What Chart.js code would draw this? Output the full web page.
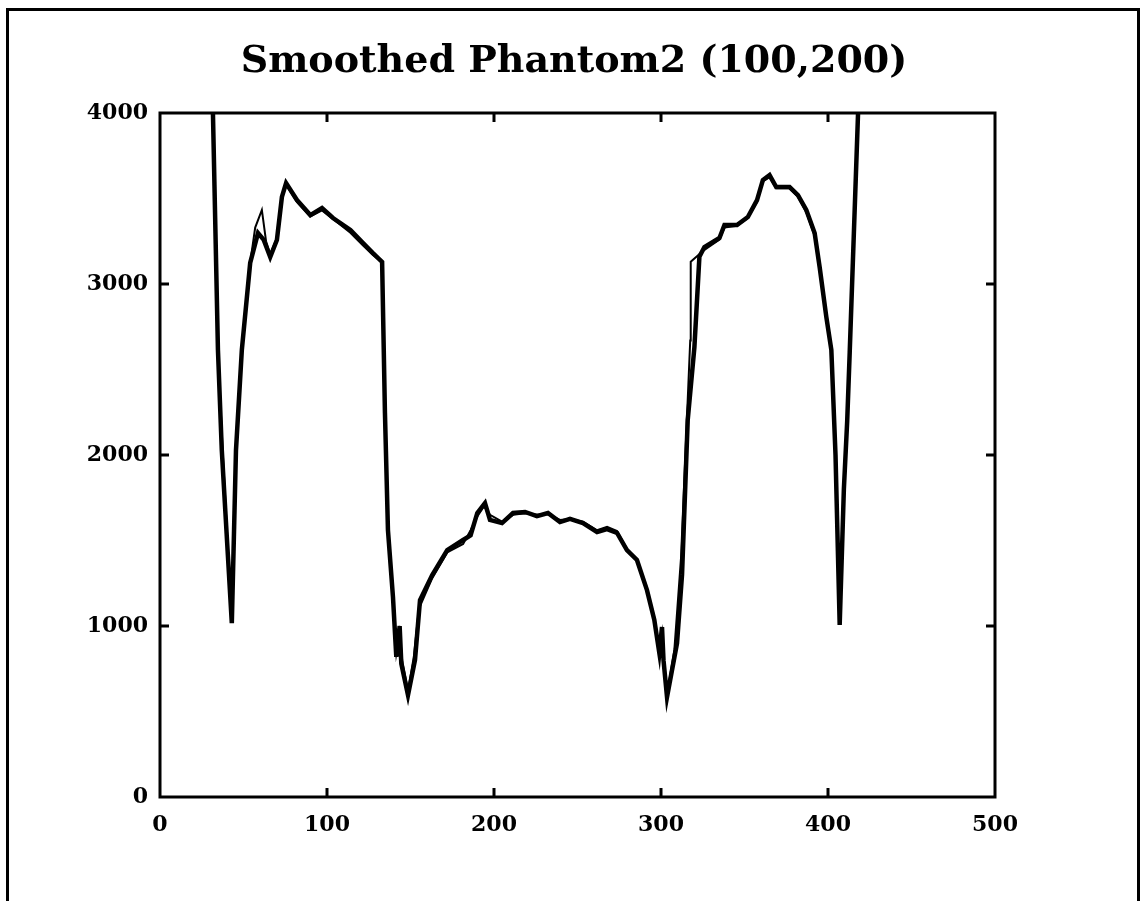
<!DOCTYPE html>
<html>
<head>
<meta charset="utf-8">
<script src="https://cdn.jsdelivr.net/npm/chart.js@4"></script>
<style>
  html, body { margin: 0; padding: 0; background: #fff; overflow: hidden; }
  #frame { position: absolute; left: 6px; top: 8px; width: 1134px; height: 1000px; border: 3px solid #000; box-sizing: border-box; }
  #chart { position: absolute; left: 0; top: 0; }
</style>
</head>
<body>
<div id="frame"></div>
<canvas id="chart" width="1148" height="901"></canvas>
<script>
// profile through row (100,200)
const thickX = [30.6, 31.7, 34.7, 37, 43, 45.5, 49, 54, 58.7, 62, 66, 70, 73, 75.5, 82, 90, 97, 103.6, 114, 121.6, 127.5, 133, 134.7, 136.5, 139.5, 141.5, 143.5, 144.5, 148.5, 152.7, 155.7, 163, 172, 181.5, 186, 190, 194.6, 197.6, 204.8, 211.4, 218.6, 225.7, 232.3, 239.5, 245.5, 253.3, 261.7, 267.7, 273.7, 279.6, 285.6, 291.6, 296, 299, 300.6, 301.5, 303.6, 309.6, 312.6, 316, 320, 323, 326, 335, 338, 345.5, 352, 357.5, 361, 365, 369, 377, 382, 387, 392, 395, 399, 402, 404.5, 407, 409.5, 411.5, 413, 418, 421];
const thickY = [4500, 4000, 2614, 2029, 1017, 2029, 2614, 3123, 3298, 3260, 3158, 3257, 3509, 3590, 3491, 3403, 3444, 3386, 3316, 3240, 3181, 3129, 2246, 1561, 1170, 820, 1000, 780, 596, 801, 1152, 1298, 1444, 1503, 1530, 1661, 1719, 1620, 1602, 1661, 1667, 1643, 1661, 1608, 1626, 1602, 1550, 1567, 1544, 1444, 1386, 1210, 1035, 842, 994, 800, 585, 900, 1300, 2205, 2630, 3160, 3216, 3269, 3345, 3345, 3392, 3491, 3608, 3637, 3567, 3567, 3520, 3433, 3298, 3099, 2807, 2614, 2000, 1006, 1800, 2200, 2600, 4000, 4800];

const thinX = [30.6, 31.7, 34.7, 37.5, 43, 45.5, 49, 54, 57, 61, 63.5, 66, 70, 73, 75.5, 82, 90, 97, 103.6, 114, 121.6, 127.5, 133, 134.7, 136.5, 139.5, 141.5, 143.5, 145, 148.5, 152, 155, 163, 172, 181.5, 186, 190, 194, 197.6, 204.8, 211.4, 218.6, 225.7, 232.3, 239.5, 245.5, 253.3, 261.7, 267.7, 273.7, 279.6, 285.6, 291.6, 296, 299, 300.6, 301.5, 303.6, 308, 312, 317.5, 317.8, 326, 335, 338, 345.5, 352, 357.5, 361, 365, 369, 377, 382, 387, 392, 395, 399, 402, 404.5, 407, 409.5, 411.5, 413, 418, 421];
const thinY = [4500, 4000, 2614, 2029, 1030, 2029, 2614, 3123, 3330, 3433, 3250, 3175, 3270, 3500, 3580, 3480, 3395, 3430, 3380, 3300, 3225, 3170, 3129, 2246, 1561, 1170, 840, 960, 800, 620, 820, 1100, 1280, 1430, 1480, 1560, 1640, 1700, 1650, 1610, 1650, 1660, 1650, 1655, 1620, 1625, 1610, 1560, 1580, 1555, 1450, 1390, 1220, 1050, 860, 960, 820, 600, 860, 1400, 2670, 3130, 3200, 3260, 3330, 3340, 3385, 3480, 3600, 3625, 3560, 3560, 3510, 3420, 3280, 3080, 2790, 2600, 2050, 1040, 1750, 2150, 2560, 3950, 4700];

const xTicks = [0, 100, 200, 300, 400, 500];
const yTicks = [0, 1000, 2000, 3000, 4000];

const toPts = (xs, ys) => xs.map((x, i) => ({ x: x, y: ys[i] }));

// box round the plot with small inward ticks on all four sides
const boxPlugin = {
    id: 'box',
    afterDatasetsDraw(chart) {
        const c = chart.ctx, a = chart.chartArea;
        const xs = chart.scales.x, ys = chart.scales.y;
        c.save();
        c.strokeStyle = '#000';
        c.lineWidth = 3;
        c.strokeRect(a.left, a.top, a.right - a.left, a.bottom - a.top);
        c.beginPath();
        xTicks.slice(1, -1).forEach(v => {
            const px = xs.getPixelForValue(v);
            c.moveTo(px, a.bottom); c.lineTo(px, a.bottom - 9);
            c.moveTo(px, a.top); c.lineTo(px, a.top + 9);
        });
        yTicks.slice(1, -1).forEach(v => {
            const py = ys.getPixelForValue(v);
            c.moveTo(a.left, py); c.lineTo(a.left + 9, py);
            c.moveTo(a.right, py); c.lineTo(a.right - 9, py);
        });
        c.stroke();
        c.restore();
    }
};

const tickFont = { family: 'DejaVu Serif', size: 22, weight: 'bold' };

new Chart(document.getElementById('chart').getContext('2d'), {
    type: 'scatter',
    data: {
        datasets: [{
            data: toPts(thinX, thinY),
            showLine: true,
            borderColor: '#000',
            borderWidth: 2,
            pointRadius: 0,
            tension: 0,
            clip: 0
        }, {
            data: toPts(thickX, thickY),
            showLine: true,
            borderColor: '#000',
            borderWidth: 4.5,
            pointRadius: 0,
            tension: 0,
            clip: 0
        }]
    },
    options: {
        responsive: false,
        animation: false,
        layout: { padding: 0 },
        plugins: {
            legend: { display: false },
            tooltip: { enabled: false },
            title: {
                display: true,
                text: 'Smoothed Phantom2 (100,200)',
                color: '#000',
                font: { family: 'DejaVu Serif', size: 38, weight: 'bold', lineHeight: 1.2 },
                padding: { top: 39, bottom: 28.4 }
            }
        },
        scales: {
            x: {
                type: 'linear',
                min: 0, max: 500,
                afterBuildTicks: s => { s.ticks = xTicks.map(v => ({ value: v })); },
                afterFit: s => { s.height = 104; },
                grid: { display: false, drawTicks: false },
                border: { display: false },
                ticks: { color: '#000', font: tickFont, padding: 15, maxRotation: 0, callback: v => String(v) }
            },
            y: {
                type: 'linear',
                min: 0, max: 4000,
                afterBuildTicks: s => { s.ticks = yTicks.map(v => ({ value: v })); },
                afterFit: s => { s.width = 160; },
                grid: { display: false, drawTicks: false },
                border: { display: false },
                ticks: { color: '#000', font: tickFont, padding: 12, callback: v => String(v) }
            },
            // empty right margin so the title centres on the whole page
            yRight: {
                type: 'linear',
                position: 'right',
                min: 0, max: 4000,
                afterFit: s => { s.width = 153; },
                grid: { display: false, drawTicks: false },
                border: { display: false },
                ticks: { display: false }
            }
        }
    },
    plugins: [boxPlugin]
});
</script>
</body>
</html>
